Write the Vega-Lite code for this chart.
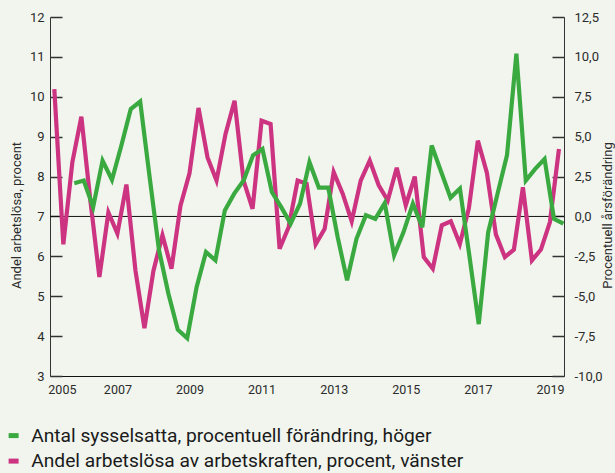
{
  "$schema": "https://vega.github.io/schema/vega-lite/v6.json",
  "width": 514,
  "height": 359,
  "autosize": {"type": "none"},
  "padding": {"left": 50, "top": 17, "right": 51, "bottom": 97},
  "background": "#f1f5ee",
  "config": {
    "view": {"stroke": null},
    "font": "Roboto",
    "axis": {
      "labelFont": "Roboto",
      "labelFontSize": 13,
      "labelColor": "#2b2b2b",
      "titleFont": "Roboto",
      "titleFontSize": 13,
      "titleFontWeight": "normal",
      "titleColor": "#2b2b2b",
      "domainColor": "#333333",
      "tickColor": "#333333",
      "tickWidth": 1.5,
      "grid": false
    }
  },
  "datasets": {
    "pink": [
      {"t": 2005.25, "v": 10.19}, {"t": 2005.5, "v": 6.3}, {"t": 2005.75, "v": 8.36}, {"t": 2006, "v": 9.5},
      {"t": 2006.25, "v": 7.4}, {"t": 2006.5, "v": 5.48}, {"t": 2006.75, "v": 7.1}, {"t": 2007, "v": 6.57},
      {"t": 2007.25, "v": 7.8}, {"t": 2007.5, "v": 5.65}, {"t": 2007.75, "v": 4.2}, {"t": 2008, "v": 5.64},
      {"t": 2008.25, "v": 6.53}, {"t": 2008.5, "v": 5.69}, {"t": 2008.75, "v": 7.27}, {"t": 2009, "v": 8.08},
      {"t": 2009.25, "v": 9.72}, {"t": 2009.5, "v": 8.48}, {"t": 2009.75, "v": 7.9}, {"t": 2010, "v": 9.07},
      {"t": 2010.25, "v": 9.9}, {"t": 2010.5, "v": 7.9}, {"t": 2010.75, "v": 7.19}, {"t": 2011, "v": 9.4},
      {"t": 2011.25, "v": 9.32}, {"t": 2011.5, "v": 6.19}, {"t": 2011.75, "v": 6.73}, {"t": 2012, "v": 7.9},
      {"t": 2012.25, "v": 7.82}, {"t": 2012.5, "v": 6.3}, {"t": 2012.75, "v": 6.69}, {"t": 2013, "v": 8.11},
      {"t": 2013.25, "v": 7.57}, {"t": 2013.5, "v": 6.88}, {"t": 2013.75, "v": 7.9}, {"t": 2014, "v": 8.4},
      {"t": 2014.25, "v": 7.78}, {"t": 2014.5, "v": 7.4}, {"t": 2014.75, "v": 8.22}, {"t": 2015, "v": 7.28},
      {"t": 2015.25, "v": 8.0}, {"t": 2015.5, "v": 5.98}, {"t": 2015.75, "v": 5.69}, {"t": 2016, "v": 6.78},
      {"t": 2016.25, "v": 6.88}, {"t": 2016.5, "v": 6.31}, {"t": 2016.75, "v": 7.2}, {"t": 2017, "v": 8.9},
      {"t": 2017.25, "v": 8.1}, {"t": 2017.5, "v": 6.55}, {"t": 2017.75, "v": 5.98}, {"t": 2018, "v": 6.17},
      {"t": 2018.25, "v": 7.73}, {"t": 2018.5, "v": 5.9}, {"t": 2018.75, "v": 6.17}, {"t": 2019, "v": 6.86},
      {"t": 2019.25, "v": 8.69}
    ],
    "green": [
      {"t": 2005.805, "v": 2.08}, {"t": 2006.066, "v": 2.25}, {"t": 2006.327, "v": 0.58}, {"t": 2006.588, "v": 3.5},
      {"t": 2006.849, "v": 2.3}, {"t": 2007.11, "v": 4.45}, {"t": 2007.371, "v": 6.73}, {"t": 2007.632, "v": 7.2},
      {"t": 2007.892, "v": 2.5}, {"t": 2008.153, "v": -2.1}, {"t": 2008.414, "v": -4.83}, {"t": 2008.675, "v": -7.1},
      {"t": 2008.936, "v": -7.63}, {"t": 2009.197, "v": -4.43}, {"t": 2009.458, "v": -2.23}, {"t": 2009.719, "v": -2.75},
      {"t": 2009.98, "v": 0.38}, {"t": 2010.241, "v": 1.43}, {"t": 2010.502, "v": 2.25}, {"t": 2010.763, "v": 3.83},
      {"t": 2011.024, "v": 4.23}, {"t": 2011.285, "v": 1.53}, {"t": 2011.545, "v": 0.58}, {"t": 2011.806, "v": -0.45},
      {"t": 2012.067, "v": 0.8}, {"t": 2012.328, "v": 3.4}, {"t": 2012.589, "v": 1.8}, {"t": 2012.85, "v": 1.8},
      {"t": 2013.111, "v": -1.3}, {"t": 2013.372, "v": -4.0}, {"t": 2013.633, "v": -1.4}, {"t": 2013.894, "v": 0.08},
      {"t": 2014.155, "v": -0.15}, {"t": 2014.416, "v": 0.83}, {"t": 2014.677, "v": -2.43}, {"t": 2014.938, "v": -0.98},
      {"t": 2015.198, "v": 0.8}, {"t": 2015.459, "v": -0.68}, {"t": 2015.72, "v": 4.45}, {"t": 2015.981, "v": 2.8},
      {"t": 2016.242, "v": 1.18}, {"t": 2016.503, "v": 1.75}, {"t": 2016.764, "v": -2.45}, {"t": 2017.025, "v": -6.75},
      {"t": 2017.286, "v": -1.0}, {"t": 2017.547, "v": 1.43}, {"t": 2017.808, "v": 3.83}, {"t": 2018.069, "v": 10.2},
      {"t": 2018.33, "v": 2.25}, {"t": 2018.591, "v": 2.98}, {"t": 2018.851, "v": 3.6}, {"t": 2019.112, "v": -0.15},
      {"t": 2019.373, "v": -0.45}
    ]
  },
  "layer": [
    {
      "data": {"values": [{"y": 7}]},
      "mark": {"type": "rule", "color": "#111111", "strokeWidth": 1},
      "encoding": {
        "y": {"field": "y", "type": "quantitative", "scale": {"domain": [3, 12], "nice": false, "zero": false}, "axis": null}
      }
    },
    {
      "data": {"name": "pink"},
      "mark": {"type": "line", "strokeWidth": 4.2, "clip": true},
      "encoding": {
        "x": {
          "field": "t", "type": "quantitative",
          "scale": {"domain": [2005.13, 2019.39], "nice": false, "zero": false},
          "axis": {
            "title": null,
            "values": [2005.46, 2007, 2009, 2011, 2013, 2015, 2017, 2019],
            "labelExpr": "floor(datum.value)",
            "ticks": false,
            "labelPadding": 7,
            "domainColor": "#111111",
            "labelFontSize": 12.5
          }
        },
        "y": {
          "field": "v", "type": "quantitative",
          "scale": {"domain": [3, 12], "nice": false, "zero": false},
          "axis": {
            "orient": "left",
            "title": "Andel arbetslösa, procent",
            "titleY": 198,
            "titlePadding": 6,
            "values": [3, 4, 5, 6, 7, 8, 9, 10, 11, 12],
            "tickSize": -12,
            "labelPadding": 18
          }
        },
        "color": {
          "datum": "Andel arbetslösa av arbetskraften, procent, vänster",
          "type": "nominal",
          "scale": {
            "domain": ["Antal sysselsatta, procentuell förändring, höger", "Andel arbetslösa av arbetskraften, procent, vänster"],
            "range": ["#3aaa40", "#cc3380"]
          },
          "legend": {
            "orient": "none",
            "legendX": -46,
            "legendY": 409,
            "title": null,
            "symbolType": "stroke",
            "symbolStrokeWidth": 5,
            "symbolSize": 100,
            "labelFont": "Roboto",
            "labelFontSize": 19.2,
            "labelColor": "#1a1a1a",
            "labelOffset": 8,
            "labelLimit": 700,
            "rowPadding": 4.5
          }
        }
      }
    },
    {
      "data": {"name": "green"},
      "mark": {"type": "line", "strokeWidth": 4.2, "clip": true},
      "encoding": {
        "x": {"field": "t", "type": "quantitative"},
        "y": {
          "field": "v", "type": "quantitative",
          "scale": {"domain": [-10, 12.5], "nice": false, "zero": false},
          "axis": {
            "orient": "right",
            "title": "Procentuell årsförändring",
            "titleAngle": -90,
            "titleY": 198,
            "titlePadding": 12,
            "values": [-10, -7.5, -5, -2.5, 0, 2.5, 5, 7.5, 10, 12.5],
            "labelExpr": "(datum.value < 0 ? '-' : '') + replace(format(abs(datum.value), '.1f'), '.', ',')",
            "tickSize": -12,
            "labelPadding": 22
          }
        },
        "color": {"datum": "Antal sysselsatta, procentuell förändring, höger", "type": "nominal"}
      }
    }
  ],
  "resolve": {"scale": {"y": "independent"}}
}
